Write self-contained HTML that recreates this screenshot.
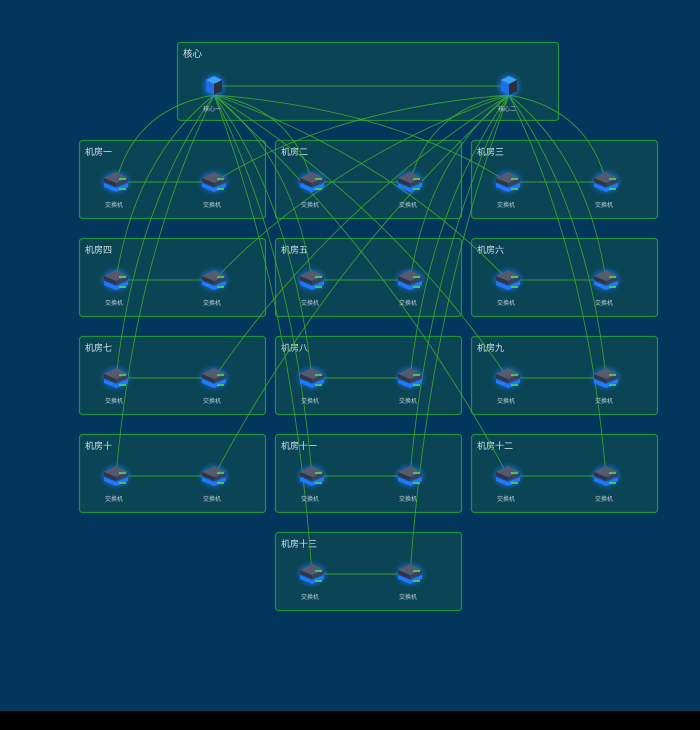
<!DOCTYPE html>
<html><head><meta charset="utf-8"><style>
body{margin:0;width:700px;height:730px;background:#03365c;overflow:hidden;font-family:"Liberation Sans","Noto Sans CJK SC",sans-serif}
#bar{position:absolute;left:0;top:711px;width:700px;height:19px;background:#000}
</style></head><body>
<svg id="topo" width="700" height="711" style="position:absolute;left:0;top:0">
<defs>
<filter id="glow" x="-50%" y="-50%" width="200%" height="200%"><feGaussianBlur stdDeviation="2"/></filter>
</defs>
<g id="groups"></g><g id="links"></g><g id="nodes"></g>
</svg>
<div id="bar"></div>
<script>
const groupNames=["机房一","机房二","机房三","机房四","机房五","机房六","机房七","机房八","机房九","机房十","机房十一","机房十二","机房十三"];
const groupCols=[0,1,2,0,1,2,0,1,2,0,1,2,1];
const groupRows=[0,0,0,1,1,1,2,2,2,3,3,3,4];
const coreNames=["核心一","核心二"];
const NS="http://www.w3.org/2000/svg";
function mk(t,a,p){const e=document.createElementNS(NS,t);for(const k in a)e.setAttribute(k,a[k]);p.appendChild(e);return e;}
const G=document.getElementById('groups'),L=document.getElementById('links'),N=document.getElementById('nodes');
const tg=mk('rect',{x:177.5,y:42.5,width:381,height:78,rx:3,fill:'#0b4455',stroke:'#23913a','stroke-width':1.2},G);


const tt=mk('text',{x:183,y:57,fill:'#cfe3ea','font-size':9.5},G);tt.textContent='核心';


const cores=[[214,86],[509,86]];
const sw=[];
groupNames.forEach((n,i)=>{
  const x=79+groupCols[i]*196,y=140+groupRows[i]*98;
  const r=mk('rect',{x:x+.5,y:y+.5,width:186,height:78,rx:3,fill:'#0b4455',stroke:'#23913a','stroke-width':1.2},G);
  
  
  const t=mk('text',{x:x+6,y:y+15,fill:'#cfe3ea','font-size':9},G);t.textContent=n;
  
  
  sw.push([[x+37,y+42],[x+135,y+42]]);
});
function curve(a,b,c){const p=mk('path',{d:`M${a[0]},${a[1]} Q${c[0]},${c[1]} ${b[0]},${b[1]}`,fill:'none',stroke:'#3fae2a','stroke-width':0.9,'stroke-opacity':.85},L);

}
curve(cores[0],cores[1],[(cores[0][0]+cores[1][0])/2,86]);
sw.forEach((s,i)=>{
  curve(s[0],s[1],[(s[0][0]+s[1][0])/2,s[0][1]]);
  const c0=[214,95],c1=[509,95];
  curve(c0,s[0],[(c0[0]+s[0][0])/2+(s[0][0]<214?-30:30),(c0[1]+s[0][1])/2-30]);
  curve(c1,s[1],[(c1[0]+s[1][0])/2+(s[1][0]<509?-30:30),(c1[1]+s[1][1])/2-30]);
});
function switchIcon(x,y,label){
  const g=mk('g',{},N);
  
  
  mk('ellipse',{cx:x,cy:y,rx:14,ry:11,fill:'#1e7fff',opacity:.45,filter:'url(#glow)'},g);
  mk('polygon',{points:`${x-12},${y+1} ${x},${y+6} ${x+12},${y+1} ${x+12},${y+5} ${x},${y+10} ${x-12},${y+5}`,fill:'#1f78ff'},g);
  mk('polygon',{points:`${x-12},${y-4} ${x},${y-10} ${x+12},${y-4} ${x},${y+1}`,fill:'#555a6e'},g);
  mk('polygon',{points:`${x-12},${y-4} ${x},${y+1} ${x},${y+5} ${x-12},${y}`,fill:'#2f3449'},g);
  mk('polygon',{points:`${x},${y+1} ${x+12},${y-4} ${x+12},${y} ${x},${y+5}`,fill:'#3b4058'},g);
  mk('rect',{x:x+3,y:y-4,width:7,height:2,fill:'#3ec46a'},g);
  mk('rect',{x:x+3,y:y+6,width:7,height:2,fill:'#3ec46a'},g);
  const t=mk('text',{x:x-11,y:y+25,fill:'#b7ccd6','font-size':6},g);t.textContent=label;
}
function coreIcon(x,y,label){
  const g=mk('g',{},N);
  
  
  mk('ellipse',{cx:x,cy:y,rx:11,ry:12,fill:'#1e7fff',opacity:.5,filter:'url(#glow)'},g);
  mk('polygon',{points:`${x-8},${y-6} ${x},${y-10} ${x+8},${y-6} ${x},${y-2}`,fill:'#3aa0ff'},g);
  mk('polygon',{points:`${x-8},${y-6} ${x},${y-2} ${x},${y+9} ${x-8},${y+5}`,fill:'#1f6ee8'},g);
  mk('polygon',{points:`${x},${y-2} ${x+8},${y-6} ${x+8},${y+5} ${x},${y+9}`,fill:'#2b2f3d'},g);
  const t=mk('text',{x:x-11,y:y+25,fill:'#b7ccd6','font-size':6},g);t.textContent=label;
}
cores.forEach((c,i)=>coreIcon(c[0],c[1],coreNames[i]));
sw.forEach(s=>{switchIcon(s[0][0],s[0][1],'交换机');switchIcon(s[1][0],s[1][1],'交换机');});
</script>
</body></html>
